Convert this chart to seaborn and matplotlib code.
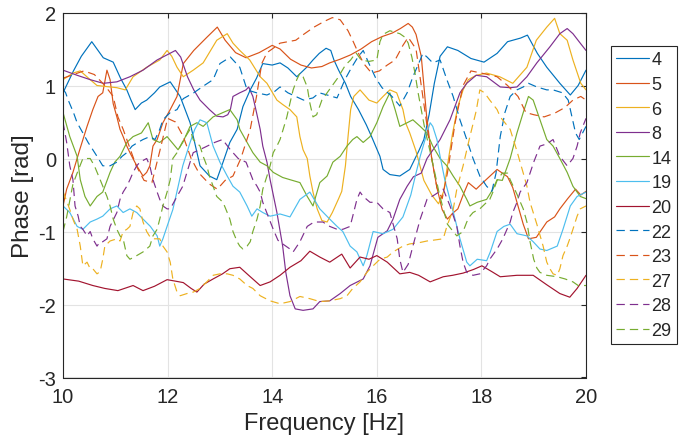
import matplotlib
matplotlib.use("Agg")
import matplotlib.pyplot as plt
import seaborn as sns

# ---------------- data ----------------
f4 = [10.0, 10.1, 10.2, 10.35, 10.55, 10.77, 10.96, 11.1, 11.22, 11.3, 11.38, 11.5, 11.6, 11.75, 11.85, 12.05, 12.24, 12.43, 12.62, 12.8, 12.94, 13.06, 13.19, 13.33, 13.44, 13.58, 13.7, 13.82, 14.0, 14.15, 14.3, 14.47, 14.66, 14.78, 14.9, 15.03, 15.12, 15.18, 15.27, 15.4, 15.5, 15.65, 15.8, 15.9, 16.06, 16.12, 16.25, 16.44, 16.63, 16.8, 16.9, 17.0, 17.1, 17.21, 17.35, 17.55, 17.8, 18.05, 18.3, 18.5, 18.75, 18.88, 19.07, 19.25, 19.5, 19.7, 19.85, 20.0]
p4 = [0.9, 1.05, 1.2, 1.4, 1.6, 1.38, 1.32, 1.1, 0.94, 0.8, 0.67, 0.76, 0.8, 0.9, 0.98, 1.05, 0.85, 0.49, -0.1, -0.24, -0.29, -0.05, 0.22, 0.4, 0.71, 0.94, 1.1, 1.3, 1.28, 1.31, 1.24, 1.12, 1.25, 1.35, 1.44, 1.51, 1.48, 1.35, 1.21, 1.03, 0.85, 0.67, 0.46, 0.3, 0.03, -0.15, -0.22, -0.24, -0.15, 0.1, 0.26, 0.6, 1.03, 1.4, 1.53, 1.48, 1.37, 1.32, 1.44, 1.6, 1.65, 1.69, 1.44, 1.25, 1.03, 0.87, 1.0, 1.21]

f5 = [10.0, 10.07, 10.19, 10.32, 10.46, 10.57, 10.67, 10.76, 10.84, 10.9, 10.96, 11.03, 11.09, 11.15, 11.22, 11.28, 11.41, 11.53, 11.6, 11.66, 11.72, 11.8, 11.91, 12.05, 12.18, 12.3, 12.5, 12.75, 12.95, 13.1, 13.3, 13.5, 13.75, 14.0, 14.15, 14.35, 14.55, 14.75, 14.95, 15.1, 15.3, 15.5, 15.7, 15.9, 16.1, 16.3, 16.45, 16.6, 16.68, 16.75, 16.85, 16.95, 17.05, 17.15, 17.25, 17.35, 17.45, 17.55, 17.65, 17.75, 17.9, 18.0, 18.15, 18.3, 18.5, 18.6, 18.7, 18.8, 18.9, 19.05, 19.25, 19.4, 19.5, 19.65, 19.8, 19.9, 20.0]
p5 = [-0.65, -0.42, -0.19, 0.12, 0.44, 0.67, 0.85, 0.9, 1.21, 1.08, 0.75, 0.57, 0.4, 0.3, 0.17, 0.08, -0.1, -0.24, -0.19, -0.1, 0.17, 0.26, 0.49, 0.67, 0.85, 1.3, 1.48, 1.66, 1.8, 1.62, 1.45, 1.38, 1.45, 1.55, 1.5, 1.36, 1.28, 1.24, 1.26, 1.31, 1.36, 1.42, 1.5, 1.6, 1.67, 1.72, 1.78, 1.85, 1.8, 1.7, 1.4, 0.6, 0.0, -0.4, -0.7, -0.83, -0.75, -0.69, -0.5, -0.33, -0.42, -0.35, -0.25, -0.15, -0.25, -0.4, -0.65, -0.9, -1.1, -1.08, -0.87, -0.8, -0.69, -0.55, -0.42, -0.5, -0.45]

f6 = [10.0, 10.19, 10.33, 10.52, 10.65, 11.03, 11.19, 11.34, 11.6, 11.85, 11.99, 12.08, 12.18, 12.3, 12.49, 12.68, 12.94, 13.14, 13.25, 13.38, 13.57, 13.77, 13.9, 14.09, 14.2, 14.34, 14.47, 14.53, 14.59, 14.67, 14.72, 14.78, 14.86, 14.95, 15.05, 15.15, 15.27, 15.33, 15.4, 15.45, 15.5, 15.56, 15.68, 15.85, 16.0, 16.12, 16.25, 16.38, 16.5, 16.55, 16.63, 16.75, 16.9, 17.05, 17.18, 17.28, 17.35, 17.45, 17.55, 17.65, 17.75, 17.9, 18.1, 18.35, 18.6, 18.87, 19.05, 19.25, 19.4, 19.5, 19.64, 19.75, 19.9, 20.0]
p6 = [1.08, 1.17, 1.2, 1.08, 1.0, 0.97, 0.94, 1.12, 1.25, 1.35, 1.48, 1.4, 1.25, 1.12, 1.21, 1.31, 1.62, 1.71, 1.58, 1.48, 1.35, 1.12, 1.03, 0.8, 0.74, 0.67, 0.57, 0.3, 0.12, 0.0, -0.24, -0.46, -0.69, -0.85, -0.87, -0.74, -0.55, -0.45, -0.1, 0.3, 0.67, 0.85, 0.94, 0.8, 0.76, 0.85, 0.94, 0.9, 0.67, 0.49, 0.35, 0.1, -0.3, -0.5, -0.62, -0.45, -0.1, 0.35, 0.71, 0.94, 1.08, 1.14, 1.17, 1.12, 1.03, 1.25, 1.62, 1.8, 1.92, 1.71, 1.62, 1.35, 1.03, 0.94]

f8 = [10.0, 10.27, 10.52, 10.77, 11.03, 11.28, 11.53, 11.8, 11.99, 12.15, 12.25, 12.38, 12.5, 12.62, 12.8, 12.94, 13.06, 13.15, 13.2, 13.25, 13.38, 13.5, 13.55, 13.63, 13.7, 13.77, 13.82, 13.9, 13.96, 14.09, 14.2, 14.26, 14.34, 14.44, 14.59, 14.78, 14.91, 15.1, 15.3, 15.49, 15.74, 15.87, 16.02, 16.2, 16.31, 16.44, 16.58, 16.7, 16.85, 16.96, 17.21, 17.4, 17.59, 17.72, 17.9, 18.1, 18.36, 18.55, 18.68, 18.87, 19.06, 19.31, 19.5, 19.64, 19.75, 19.89, 20.0]
p8 = [1.21, 1.14, 1.08, 1.03, 1.05, 1.12, 1.21, 1.35, 1.42, 1.48, 1.39, 1.12, 0.94, 0.8, 0.67, 0.58, 0.57, 0.6, 0.67, 0.85, 0.9, 0.94, 0.98, 0.85, 0.63, 0.4, 0.17, -0.05, -0.29, -0.74, -1.2, -1.56, -1.88, -2.06, -2.08, -2.06, -1.96, -1.95, -1.85, -1.74, -1.65, -1.47, -1.08, -0.99, -0.83, -0.56, -0.38, -0.25, -0.2, 0.0, 0.26, 0.53, 0.9, 1.03, 1.14, 1.12, 0.98, 0.97, 0.98, 1.12, 1.31, 1.53, 1.71, 1.78, 1.71, 1.58, 1.48]

f14 = [10.0, 10.13, 10.27, 10.33, 10.42, 10.52, 10.65, 10.76, 10.9, 10.99, 11.09, 11.22, 11.34, 11.5, 11.63, 11.72, 11.85, 11.99, 12.2, 12.29, 12.43, 12.56, 12.68, 12.87, 13.06, 13.19, 13.33, 13.38, 13.52, 13.63, 13.77, 13.9, 14.02, 14.2, 14.34, 14.53, 14.67, 14.78, 14.91, 15.05, 15.16, 15.3, 15.43, 15.54, 15.62, 15.74, 15.87, 16.0, 16.12, 16.25, 16.35, 16.44, 16.58, 16.69, 16.83, 16.96, 17.07, 17.21, 17.34, 17.46, 17.59, 17.72, 17.78, 17.92, 18.1, 18.22, 18.3, 18.4, 18.55, 18.68, 18.8, 18.9, 18.99, 19.12, 19.25, 19.37, 19.5, 19.64, 19.75, 19.89, 20.0]
p14 = [0.63, 0.3, 0.03, -0.29, -0.52, -0.65, -0.52, -0.46, -0.19, -0.05, 0.03, 0.22, 0.3, 0.35, 0.49, 0.26, 0.22, 0.3, 0.12, 0.22, 0.44, 0.49, 0.44, 0.57, 0.63, 0.67, 0.53, 0.4, 0.22, 0.08, -0.05, -0.1, -0.19, -0.26, -0.29, -0.33, -0.52, -0.65, -0.33, -0.24, -0.05, 0.03, 0.17, 0.26, 0.3, 0.22, 0.3, 0.49, 0.71, 0.9, 0.67, 0.44, 0.49, 0.53, 0.44, 0.35, 0.17, 0.0, -0.1, -0.24, -0.38, -0.56, -0.65, -0.6, -0.56, -0.42, -0.29, -0.3, 0.0, 0.35, 0.63, 0.85, 0.8, 0.53, 0.26, 0.17, 0.0, -0.19, -0.38, -0.52, -0.55]

f19 = [10.0, 10.13, 10.27, 10.38, 10.52, 10.65, 10.76, 10.9, 11.03, 11.15, 11.28, 11.41, 11.53, 11.67, 11.8, 11.85, 11.91, 11.99, 12.1, 12.18, 12.29, 12.43, 12.52, 12.62, 12.75, 12.87, 13.0, 13.14, 13.25, 13.38, 13.52, 13.61, 13.71, 13.82, 13.96, 14.15, 14.34, 14.53, 14.72, 14.91, 15.1, 15.24, 15.35, 15.49, 15.62, 15.74, 15.81, 15.93, 16.12, 16.31, 16.5, 16.65, 16.75, 16.83, 16.96, 17.02, 17.07, 17.15, 17.21, 17.3, 17.45, 17.59, 17.72, 17.78, 17.92, 18.1, 18.17, 18.3, 18.43, 18.55, 18.68, 18.87, 18.99, 19.12, 19.25, 19.45, 19.56, 19.7, 19.83, 20.0]
p19 = [-0.65, -0.74, -0.93, -0.97, -0.87, -0.83, -0.79, -0.69, -0.65, -0.74, -0.69, -0.74, -0.83, -0.93, -1.06, -1.2, -1.1, -0.93, -0.7, -0.45, -0.1, 0.22, 0.4, 0.53, 0.49, 0.17, -0.05, -0.24, -0.38, -0.46, -0.65, -0.79, -0.69, -0.74, -0.79, -0.76, -0.8, -0.56, -0.46, -0.69, -0.83, -0.93, -1.0, -1.2, -1.28, -1.47, -1.33, -1.0, -1.03, -0.97, -0.8, -0.5, -0.2, 0.03, 0.35, 0.49, 0.44, 0.26, 0.03, -0.29, -0.7, -1.1, -1.42, -1.47, -1.38, -1.4, -1.28, -1.0, -0.93, -0.9, -1.03, -1.06, -1.14, -1.24, -1.26, -1.2, -0.97, -0.65, -0.52, -0.46]

f20 = [10.0, 10.3, 10.57, 10.8, 11.05, 11.34, 11.53, 11.75, 11.99, 12.15, 12.3, 12.45, 12.56, 12.7, 12.87, 13.05, 13.19, 13.38, 13.55, 13.77, 13.96, 14.15, 14.34, 14.55, 14.72, 14.91, 15.1, 15.33, 15.49, 15.68, 15.85, 16.0, 16.2, 16.44, 16.63, 16.8, 17.02, 17.27, 17.45, 17.65, 17.85, 18.01, 18.2, 18.36, 18.68, 18.99, 19.25, 19.5, 19.69, 19.83, 20.0]
p20 = [-1.65, -1.68, -1.74, -1.78, -1.81, -1.74, -1.81, -1.75, -1.66, -1.68, -1.7, -1.78, -1.83, -1.72, -1.65, -1.58, -1.51, -1.49, -1.6, -1.74, -1.69, -1.6, -1.49, -1.4, -1.27, -1.35, -1.42, -1.31, -1.5, -1.35, -1.38, -1.33, -1.42, -1.58, -1.56, -1.6, -1.69, -1.62, -1.6, -1.57, -1.52, -1.47, -1.55, -1.62, -1.6, -1.6, -1.73, -1.85, -1.9, -1.78, -1.6]

f22 = [10.0, 10.05, 10.1, 10.2, 10.27, 10.38, 10.48, 10.57, 10.65, 10.76, 10.9, 11.03, 11.13, 11.22, 11.32, 11.43, 11.53, 11.66, 11.76, 11.85, 11.91, 12.05, 12.18, 12.3, 12.5, 12.7, 12.87, 13.0, 13.2, 13.38, 13.52, 13.7, 13.9, 14.05, 14.15, 14.3, 14.45, 14.6, 14.78, 14.9, 15.05, 15.24, 15.39, 15.52, 15.64, 15.74, 15.85, 15.98, 16.1, 16.29, 16.44, 16.58, 16.69, 16.83, 16.88, 16.96, 17.07, 17.21, 17.34, 17.46, 17.59, 17.72, 17.84, 17.97, 18.1, 18.2, 18.28, 18.36, 18.45, 18.55, 18.68, 18.8, 18.9, 19.06, 19.25, 19.37, 19.55, 19.66, 19.8, 19.87, 20.0]
p22 = [0.95, 0.9, 0.8, 0.63, 0.49, 0.35, 0.22, 0.12, 0.03, -0.1, -0.1, -0.05, 0.03, 0.08, 0.17, 0.22, 0.26, 0.3, 0.26, 0.4, 0.53, 0.63, 0.67, 0.82, 0.9, 1.0, 1.08, 1.3, 1.39, 1.25, 0.94, 0.9, 0.87, 0.92, 0.98, 0.9, 0.85, 0.8, 0.83, 0.9, 0.87, 0.83, 1.08, 1.25, 1.39, 1.48, 1.3, 1.1, 0.97, 0.85, 0.72, 0.9, 1.12, 1.35, 1.44, 1.39, 1.31, 1.35, 1.08, 0.85, 0.53, 0.26, 0.0, -0.24, -0.38, -0.45, -0.2, 0.3, 0.63, 0.85, 0.94, 0.98, 1.03, 0.98, 0.94, 0.94, 0.9, 0.8, 0.35, 0.26, 0.44]

f23 = [10.0, 10.2, 10.4, 10.6, 10.8, 10.96, 11.05, 11.15, 11.25, 11.4, 11.55, 11.7, 11.85, 12.0, 12.15, 12.3, 12.45, 12.6, 12.8, 12.95, 13.1, 13.25, 13.4, 13.58, 13.7, 13.8, 13.9, 14.0, 14.15, 14.3, 14.45, 14.6, 14.8, 15.0, 15.15, 15.3, 15.45, 15.55, 15.65, 15.75, 15.9, 16.05, 16.2, 16.35, 16.5, 16.6, 16.75, 16.85, 16.95, 17.05, 17.15, 17.25, 17.35, 17.5, 17.65, 17.8, 18.0, 18.3, 18.5, 18.7, 18.85, 19.0, 19.2, 19.4, 19.6, 19.75, 19.9, 20.0]
p23 = [1.1, 1.15, 1.2, 1.15, 1.0, 0.85, 0.57, 0.4, 0.2, -0.1, -0.3, -0.33, 0.1, 0.55, 0.5, 0.3, 0.0, -0.2, -0.35, -0.42, -0.3, -0.24, 0.0, 0.4, 0.85, 1.3, 1.45, 1.5, 1.58, 1.6, 1.62, 1.7, 1.8, 1.88, 1.93, 1.9, 1.75, 1.6, 1.44, 1.3, 1.17, 1.2, 1.28, 1.35, 1.55, 1.66, 1.5, 1.0, 0.5, 0.0, -0.4, -0.55, -0.2, 0.5, 1.0, 1.2, 1.17, 1.12, 1.0, 0.85, 0.63, 0.6, 0.57, 0.62, 0.7, 0.8, 0.85, 0.8]

f27 = [10.0, 10.13, 10.2, 10.27, 10.33, 10.38, 10.46, 10.52, 10.57, 10.65, 10.71, 10.76, 10.8, 10.9, 11.03, 11.09, 11.15, 11.22, 11.28, 11.34, 11.41, 11.47, 11.53, 11.6, 11.66, 11.72, 11.85, 11.91, 11.99, 12.05, 12.1, 12.18, 12.24, 12.37, 12.49, 12.62, 12.75, 12.87, 13.0, 13.14, 13.25, 13.38, 13.52, 13.63, 13.77, 13.96, 14.15, 14.34, 14.53, 14.72, 14.91, 15.1, 15.3, 15.43, 15.54, 15.68, 15.81, 15.93, 16.06, 16.2, 16.31, 16.5, 16.63, 16.83, 16.96, 17.07, 17.27, 17.34, 17.46, 17.53, 17.65, 17.78, 17.9, 17.97, 18.06, 18.16, 18.3, 18.36, 18.55, 18.68, 18.8, 18.87, 18.93, 19.06, 19.18, 19.25, 19.31, 19.37, 19.45, 19.5, 19.56, 19.64, 19.69, 19.75, 19.83, 19.89, 20.0]
p27 = [-0.45, -0.7, -0.85, -0.97, -1.2, -1.47, -1.42, -1.51, -1.51, -1.58, -1.55, -1.38, -1.2, -1.13, -1.1, -1.13, -1.0, -0.97, -0.93, -0.74, -0.65, -0.69, -0.87, -1.0, -1.07, -1.1, -1.1, -1.2, -1.28, -1.42, -1.65, -1.83, -1.88, -1.85, -1.83, -1.78, -1.69, -1.6, -1.58, -1.58, -1.6, -1.65, -1.74, -1.78, -1.88, -1.95, -1.99, -1.96, -1.89, -1.92, -1.96, -1.95, -1.92, -1.88, -1.78, -1.69, -1.56, -1.47, -1.38, -1.35, -1.28, -1.2, -1.17, -1.15, -1.13, -1.12, -1.1, -0.93, -0.7, -0.42, -0.1, 0.3, 0.65, 0.94, 0.9, 0.8, 0.67, 0.57, 0.4, 0.1, -0.2, -0.38, -0.6, -0.9, -1.2, -1.42, -1.51, -1.58, -1.6, -1.51, -1.33, -1.2, -1.1, -0.97, -0.79, -0.69, -0.65]

f28 = [10.0, 10.07, 10.13, 10.19, 10.23, 10.29, 10.33, 10.38, 10.46, 10.52, 10.57, 10.65, 10.71, 10.76, 10.84, 10.9, 11.03, 11.09, 11.15, 11.22, 11.28, 11.34, 11.41, 11.47, 11.6, 11.66, 11.72, 11.8, 11.85, 11.91, 11.99, 12.05, 12.18, 12.29, 12.37, 12.43, 12.49, 12.7, 12.9, 13.05, 13.2, 13.35, 13.5, 13.63, 13.71, 13.77, 13.82, 13.9, 14.02, 14.11, 14.2, 14.34, 14.4, 14.53, 14.67, 14.8, 14.97, 15.1, 15.24, 15.35, 15.49, 15.54, 15.62, 15.68, 15.74, 15.87, 16.0, 16.12, 16.25, 16.39, 16.44, 16.5, 16.6, 16.69, 16.83, 16.96, 17.1, 17.27, 17.4, 17.53, 17.59, 17.65, 17.72, 17.84, 17.97, 18.1, 18.16, 18.3, 18.41, 18.55, 18.6, 18.68, 18.74, 18.87, 19.0, 19.12, 19.25, 19.37, 19.5, 19.64, 19.75, 19.83, 19.89, 20.0]
p28 = [0.5, 0.22, -0.1, -0.29, -0.65, -0.79, -0.93, -0.97, -1.06, -1.0, -1.1, -1.2, -1.14, -1.14, -1.1, -0.93, -0.74, -0.56, -0.46, -0.38, -0.29, -0.19, -0.1, -0.05, 0.0, -0.1, -0.29, -0.46, -0.56, -0.65, -0.69, -0.69, -0.52, -0.38, -0.19, -0.05, 0.08, 0.15, 0.22, 0.26, 0.12, 0.0, -0.05, -0.29, -0.38, -0.46, -0.6, -0.75, -0.97, -1.12, -1.17, -1.24, -1.28, -1.14, -0.93, -0.87, -0.87, -0.93, -0.97, -0.97, -0.93, -0.79, -0.56, -0.46, -0.52, -0.6, -0.6, -0.69, -0.74, -1.1, -1.38, -1.56, -1.45, -1.2, -0.83, -0.56, -0.5, -0.42, -0.65, -0.93, -1.2, -1.42, -1.56, -1.6, -1.58, -1.47, -1.38, -1.24, -1.1, -0.87, -0.74, -0.6, -0.46, -0.33, -0.05, 0.17, 0.2, 0.26, 0.03, -0.1, 0.0, 0.17, 0.35, 0.55]

f29 = [10.0, 10.07, 10.19, 10.27, 10.38, 10.52, 10.6, 10.71, 10.84, 10.9, 10.96, 11.03, 11.09, 11.15, 11.22, 11.28, 11.41, 11.53, 11.66, 11.72, 11.8, 11.85, 11.91, 11.99, 12.05, 12.1, 12.18, 12.3, 12.43, 12.49, 12.62, 12.68, 12.75, 12.8, 12.87, 12.94, 13.06, 13.14, 13.19, 13.25, 13.33, 13.38, 13.44, 13.52, 13.58, 13.63, 13.71, 13.77, 13.82, 13.9, 13.96, 14.02, 14.09, 14.15, 14.21, 14.28, 14.34, 14.4, 14.47, 14.53, 14.59, 14.67, 14.72, 14.78, 14.85, 14.95, 15.1, 15.25, 15.4, 15.5, 15.6, 15.7, 15.85, 16.0, 16.06, 16.12, 16.25, 16.44, 16.54, 16.6, 16.67, 16.73, 16.79, 16.86, 16.92, 17.05, 17.2, 17.35, 17.46, 17.53, 17.65, 17.72, 17.78, 17.84, 17.97, 18.1, 18.16, 18.22, 18.3, 18.4, 18.5, 18.55, 18.68, 18.8, 18.87, 18.93, 19.0, 19.06, 19.12, 19.25, 19.45, 19.6, 19.75, 19.85, 20.0]
p29 = [-1.0, -0.8, -0.35, -0.2, 0.0, 0.0, -0.1, -0.29, -0.52, -0.65, -0.83, -0.97, -1.06, -1.1, -1.33, -1.38, -1.33, -1.28, -1.2, -1.06, -0.97, -0.83, -0.65, -0.46, -0.29, 0.0, 0.08, 0.25, 0.4, 0.26, 0.17, 0.03, -0.1, -0.24, -0.38, -0.52, -0.6, -0.74, -0.83, -1.0, -1.14, -1.2, -1.24, -1.2, -1.14, -1.0, -0.83, -0.65, -0.42, -0.24, -0.1, 0.08, 0.17, 0.26, 0.4, 0.57, 0.76, 0.94, 1.08, 1.17, 1.12, 0.98, 0.76, 0.57, 0.6, 0.8, 0.95, 1.1, 1.28, 1.35, 1.45, 1.35, 1.33, 1.35, 1.6, 1.7, 1.75, 1.71, 1.66, 1.58, 1.39, 1.17, 0.9, 0.63, 0.4, 0.0, -0.5, -0.9, -1.0, -1.06, -1.0, -0.87, -0.79, -0.74, -0.69, -0.6, -0.56, -0.46, -0.3, -0.2, -0.2, -0.29, -0.49, -0.69, -0.87, -1.14, -1.38, -1.5, -1.56, -1.6, -1.62, -1.65, -1.69, -1.74, -1.74]

labels = ["4", "5", "6", "8", "14", "19", "20", "22", "23", "27", "28", "29"]
xticks = [10, 12, 14, 16, 18, 20]
yticks = [-3, -2, -1, 0, 1, 2]

# ---------------- style ----------------
sns.set_theme(style="white")
plt.rcParams["font.family"] = ["Liberation Sans", "DejaVu Sans"]
plt.rcParams["lines.scale_dashes"] = False
plt.rcParams["axes.unicode_minus"] = False

matlab = ["#0072BD", "#D95319", "#EDB120", "#7E2F8E", "#77AC30", "#4DBEEE", "#A2142F"]
dash = (0, (6.0, 3.6))
series = [
    (f4, p4, matlab[0], "-"), (f5, p5, matlab[1], "-"), (f6, p6, matlab[2], "-"),
    (f8, p8, matlab[3], "-"), (f14, p14, matlab[4], "-"), (f19, p19, matlab[5], "-"),
    (f20, p20, matlab[6], "-"), (f22, p22, matlab[0], dash), (f23, p23, matlab[1], dash),
    (f27, p27, matlab[2], dash), (f28, p28, matlab[3], dash), (f29, p29, matlab[4], dash),
]

W, H = 680, 439
fig = plt.figure(figsize=(W / 100, H / 100), dpi=100)
L, R, T, B = 63, 586, 13.5, 378.5
ax = fig.add_axes([L / W, 1 - B / H, (R - L) / W, (B - T) / H])

for lab, (f, p, c, ls) in zip(labels, series):
    assert len(f) == len(p), lab
    sns.lineplot(x=f, y=p, ax=ax, color=c, linewidth=0.85, linestyle=ls,
                 label=lab, sort=False, estimator=None)

ax.set_xlim(10, 20)
ax.set_ylim(-3, 2)
ax.set_xticks(xticks)
ax.set_yticks(yticks)
ax.grid(True, color="#e3e3e3", linewidth=0.8)
ax.set_axisbelow(True)
for s in ax.spines.values():
    s.set_visible(True)
    s.set_color("#262626")
    s.set_linewidth(0.8)
ax.tick_params(direction="in", top=True, right=True, length=3.8, width=0.8,
               color="#262626", labelsize=14.5, labelcolor="#262626")
ax.tick_params(axis="x", pad=7)
ax.tick_params(axis="y", pad=5)
ax.set_xlabel("Frequency [Hz]", fontsize=17, color="#262626", labelpad=4)
ax.set_ylabel("Phase [rad]", fontsize=17.5, color="#262626", labelpad=3)

leg = ax.legend(loc="upper left", bbox_to_anchor=(611 / W, 1 - 47 / H),
                bbox_transform=fig.transFigure, borderaxespad=0, fontsize=13,
                frameon=True, fancybox=False, framealpha=1, edgecolor="#262626",
                handlelength=1.8, handletextpad=0.15, labelspacing=0.42,
                borderpad=0.3)
leg.get_frame().set_linewidth(0.8)

fig.savefig("out.png", dpi=100)
